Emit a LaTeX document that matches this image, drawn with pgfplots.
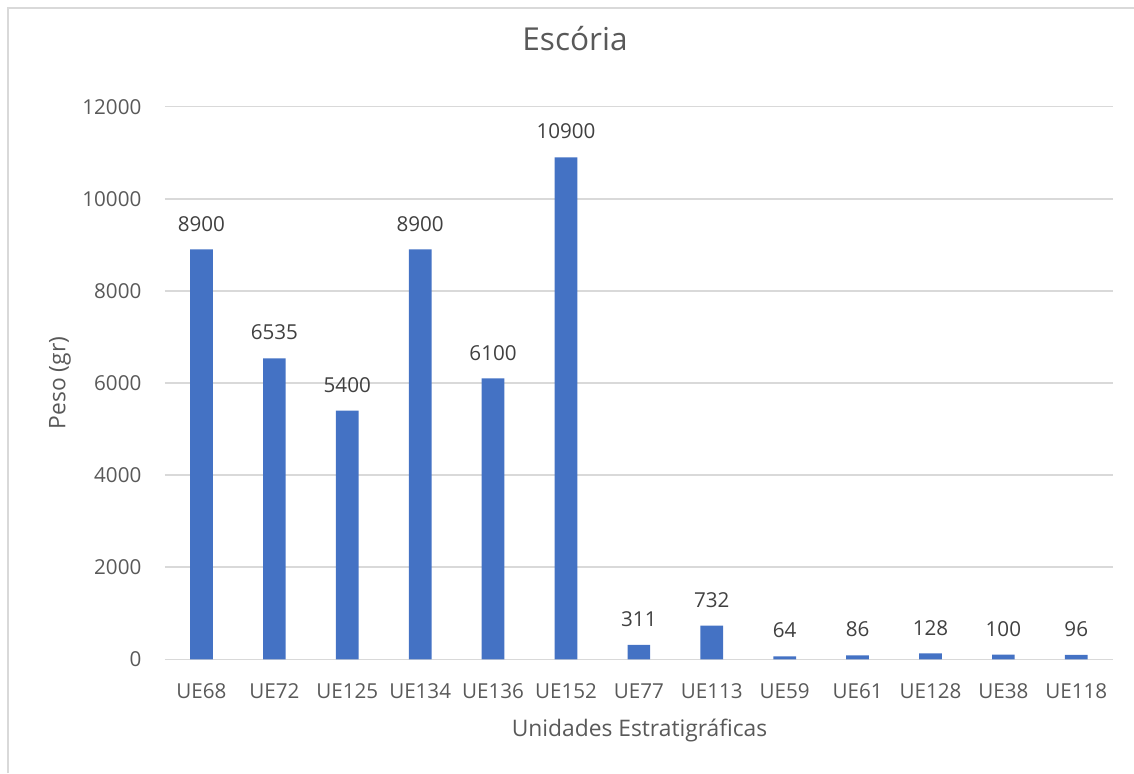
\documentclass[border=0pt]{standalone}
\usepackage{fontspec}
\setmainfont{Open Sans}
\usepackage{pgfplots}
\pgfplotsset{compat=1.18}
\definecolor{barblue}{HTML}{4472C4}
\definecolor{gridgray}{HTML}{D9D9D9}
\definecolor{txtgray}{HTML}{595959}
\definecolor{lblgray}{HTML}{404040}
\begin{document}
\begin{tikzpicture}
\path[use as bounding box] (-82.5pt,-56.85pt) rectangle (484.5pt,329.65pt);
\draw[gridgray, line width=1pt] (-78.5pt,-56.85pt) -- (-78.5pt,325.65pt) -- (484.5pt,325.65pt);
\begin{axis}[
  at={(0,0)}, anchor=south west,
  scale only axis,
  width=473.85pt, height=276.3pt,
  ybar, bar width=11.35pt,
  xmin=-0.5, xmax=12.5,
  ymin=0, ymax=12000,
  ytick={0,2000,4000,6000,8000,10000,12000},
  xtick={0,...,12},
  xticklabels={UE68,UE72,UE125,UE134,UE136,UE152,UE77,UE113,UE59,UE61,UE128,UE38,UE118},
  scaled y ticks=false,
  /pgf/number format/1000 sep={},
  /pgf/number format/assume math mode=true,
  axis line style={draw=none},
  major tick length=0pt,
  ymajorgrids, grid style={gridgray, line width=0.75pt},
  tick label style={font=\fontsize{10.3}{12}\selectfont, text=txtgray},
  xticklabel style={anchor=base, yshift=-19.5pt, inner sep=0pt},
  yticklabel style={anchor=east, xshift=-11.65pt, inner sep=0pt},
  title={Escória},
  title style={at={(axis description cs:0.4326,1.0791)}, anchor=base, inner sep=0pt, font=\fontsize{15.8}{19}\selectfont, text=txtgray},
  xlabel={Unidades Estratigráficas},
  xlabel style={at={(axis description cs:0.5007,-0.1297)}, anchor=center, font=\fontsize{11.4}{14}\selectfont, text=txtgray},
  ylabel={Peso (gr)},
  ylabel style={at={(axis description cs:-0.1108,0.5)}, anchor=center, font=\fontsize{11.4}{14}\selectfont, text=txtgray},
  point meta=explicit symbolic,
  nodes near coords,
  nodes near coords style={anchor=base, yshift=9.2pt, inner sep=0pt, font=\fontsize{10.3}{12}\selectfont, text=lblgray},
]
\addplot[fill=barblue, draw=none] coordinates {
(0,8900) [8900]
(1,6535) [6535]
(2,5400) [5400]
(3,8900) [8900]
(4,6100) [6100]
(5,10900) [10900]
(6,311) [311]
(7,732) [732]
(8,64) [64]
(9,86) [86]
(10,128) [128]
(11,100) [100]
(12,96) [96]
};
\end{axis}
\end{tikzpicture}
\end{document}
